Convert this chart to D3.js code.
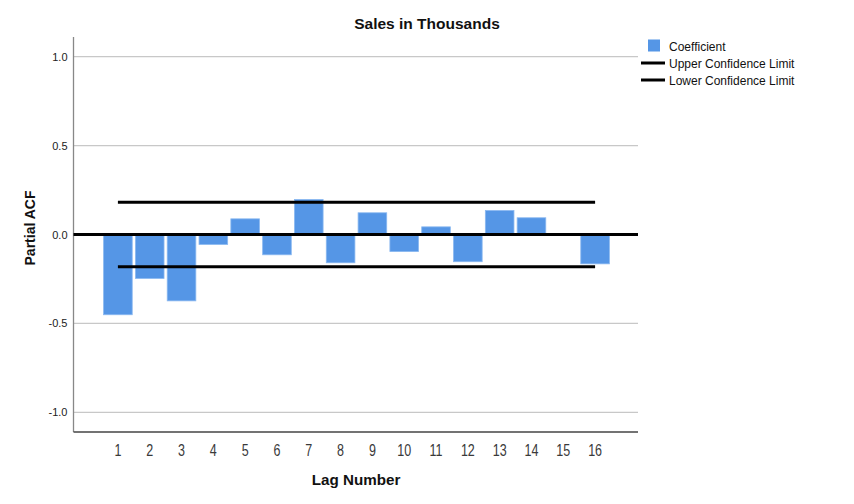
<!DOCTYPE html>
<html>
<head>
<meta charset="utf-8">
<script src="https://cdn.jsdelivr.net/npm/d3@7/dist/d3.min.js"></script>
<style>
  body { margin: 0; background: #fff; }
  svg { display: block; font-family: "Liberation Sans", Arial, sans-serif; }
</style>
</head>
<body>
<svg id="chart" width="854" height="504"></svg>
<script>
const lags = [1,2,3,4,5,6,7,8,9,10,11,12,13,14,15,16];
const coefficients = [-0.451,-0.247,-0.373,-0.056,0.088,-0.114,0.197,-0.159,0.122,-0.096,0.043,-0.153,0.135,0.094,0.002,-0.165];
const upperLimit = [0.181,0.181,0.181,0.181,0.181,0.181,0.181,0.181,0.181,0.181,0.181,0.181,0.181,0.181,0.181,0.181];
const lowerLimit = [-0.181,-0.181,-0.181,-0.181,-0.181,-0.181,-0.181,-0.181,-0.181,-0.181,-0.181,-0.181,-0.181,-0.181,-0.181,-0.181];
const yTicks = [-1.0,-0.5,0.0,0.5,1.0];
const legendItems = ["Coefficient","Upper Confidence Limit","Lower Confidence Limit"];

const svg = d3.select("#chart");
const plot = {left: 73.5, right: 638, top: 37, bottom: 432};

const x = d3.scaleBand().domain(lags).range([102, 611]).paddingInner(0.1).paddingOuter(0.05);
const y = d3.scaleLinear().domain([-1.11, 1.11]).range([plot.bottom, plot.top]);

// grid lines
svg.append("g").selectAll("line").data(yTicks.filter(d => d !== 0)).join("line")
  .attr("x1", plot.left).attr("x2", plot.right)
  .attr("y1", d => y(d)).attr("y2", d => y(d))
  .attr("stroke", "#c8c8c8").attr("stroke-width", 1.3);

// y axis
const fmt = d3.format(".1f");
const yAxis = d3.axisLeft(y).tickValues(yTicks).tickFormat(d => fmt(d).replace("\u2212", "-")).tickSize(0).tickPadding(6);
const ya = svg.append("g").attr("transform", `translate(${plot.left},0)`).call(yAxis);
ya.select(".domain").remove();
ya.selectAll("text").attr("font-size", 11).attr("fill", "#222").attr("font-family", "Liberation Sans, Arial, sans-serif");

// x axis
const xAxis = d3.axisBottom(x).tickSize(0).tickPadding(12);
const xa = svg.append("g").attr("transform", `translate(0,${plot.bottom})`).call(xAxis);
xa.select(".domain").remove();
xa.selectAll("text").attr("font-size", 16.5).attr("fill", "#3a3a3a")
  .attr("font-family", "Liberation Sans, Arial, sans-serif")
  .attr("transform", "scale(0.76,1)");

// axis frame lines
svg.append("line").attr("x1", plot.left).attr("x2", plot.left).attr("y1", plot.top).attr("y2", plot.bottom)
  .attr("stroke", "#888").attr("stroke-width", 1.3);
svg.append("line").attr("x1", plot.left).attr("x2", plot.right).attr("y1", plot.bottom).attr("y2", plot.bottom)
  .attr("stroke", "#444").attr("stroke-width", 1.3);

// bars
svg.append("g").selectAll("rect").data(lags.map((l, i) => ({l, v: coefficients[i]}))).join("rect")
  .attr("x", d => x(d.l))
  .attr("width", x.bandwidth())
  .attr("y", d => y(Math.max(0, d.v)))
  .attr("height", d => Math.abs(y(d.v) - y(0)))
  .attr("fill", "#5596e6")
  .attr("stroke", "#8ab8f0").attr("stroke-width", 0.8);

// zero line
svg.append("line").attr("x1", plot.left).attr("x2", plot.right).attr("y1", y(0)).attr("y2", y(0))
  .attr("stroke", "#000").attr("stroke-width", 3);

// confidence limits
const line = d3.line().x((d, i) => x(lags[i]) + x.bandwidth() / 2).y(d => y(d));
svg.append("path").datum(upperLimit).attr("d", line).attr("fill", "none").attr("stroke", "#000").attr("stroke-width", 3);
svg.append("path").datum(lowerLimit).attr("d", line).attr("fill", "none").attr("stroke", "#000").attr("stroke-width", 3);

// title
svg.append("text").attr("x", 427).attr("y", 29).attr("text-anchor", "middle")
  .attr("font-size", 15.5).attr("font-weight", "bold").attr("fill", "#111").text("Sales in Thousands");

// axis titles
svg.append("text").attr("x", 356).attr("y", 485).attr("text-anchor", "middle")
  .attr("font-size", 15.2).attr("font-weight", "bold").attr("fill", "#111").text("Lag Number");
svg.append("text").attr("transform", "translate(35,228) rotate(-90)").attr("text-anchor", "middle")
  .attr("font-size", 14).attr("font-weight", "bold").attr("fill", "#111").text("Partial ACF");

// legend
const lg = svg.append("g");
lg.append("rect").attr("x", 648).attr("y", 39.5).attr("width", 12).attr("height", 12).attr("fill", "#5596e6");
lg.append("line").attr("x1", 641).attr("x2", 665).attr("y1", 63).attr("y2", 63).attr("stroke", "#000").attr("stroke-width", 3);
lg.append("line").attr("x1", 641).attr("x2", 665).attr("y1", 80).attr("y2", 80).attr("stroke", "#000").attr("stroke-width", 3);
lg.selectAll("text").data(legendItems).join("text")
  .attr("x", 669).attr("y", (d, i) => 50.5 + i * 17)
  .attr("font-size", 12).attr("fill", "#111").text(d => d);
</script>
</body>
</html>
